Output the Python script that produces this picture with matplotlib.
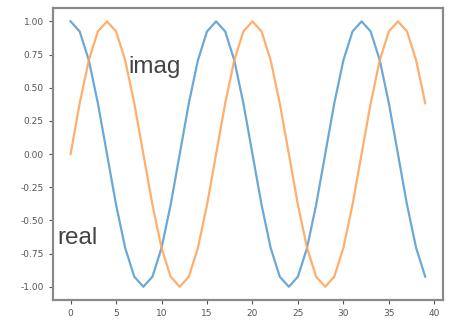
import numpy as np
from matplotlib import pyplot as plt

# sample index and the two parts of the signal
n = list(range(40))
real = [1.0, 0.924, 0.707, 0.383, 0.0, -0.383, -0.707, -0.924,
        -1.0, -0.924, -0.707, -0.383, 0.0, 0.383, 0.707, 0.924,
        1.0, 0.924, 0.707, 0.383, 0.0, -0.383, -0.707, -0.924,
        -1.0, -0.924, -0.707, -0.383, 0.0, 0.383, 0.707, 0.924,
        1.0, 0.924, 0.707, 0.383, 0.0, -0.383, -0.707, -0.924]
imag = [0.0, 0.383, 0.707, 0.924, 1.0, 0.924, 0.707, 0.383,
        0.0, -0.383, -0.707, -0.924, -1.0, -0.924, -0.707, -0.383,
        0.0, 0.383, 0.707, 0.924, 1.0, 0.924, 0.707, 0.383,
        0.0, -0.383, -0.707, -0.924, -1.0, -0.924, -0.707, -0.383,
        0.0, 0.383, 0.707, 0.924, 1.0, 0.924, 0.707, 0.383]
xticks = [0, 5, 10, 15, 20, 25, 30, 35, 40]
yticks = [-1.0, -0.75, -0.5, -0.25, 0.0, 0.25, 0.5, 0.75, 1.0]

fig = plt.figure(figsize=(4.52, 3.24), dpi=100)
ax = fig.add_axes([0.117, 0.074, 0.863, 0.901])

ax.plot(n, real, color='#5b9fd1', lw=1.6, alpha=0.9)
ax.plot(n, imag, color='#ffa55c', lw=1.6, alpha=0.9)

ax.text(6.3, 0.655, 'imag', fontsize=17.5, color='#444444', va='center',
        family='Liberation Sans')
ax.text(-1.5, -0.63, 'real', fontsize=17.5, color='#444444', va='center',
        family='Liberation Sans')

ax.set_xticks(xticks)
ax.set_yticks(yticks)
ax.set_yticklabels(['%.2f' % v for v in yticks])
ax.set_xlim(-1.95, 40.95)
ax.set_ylim(-1.1, 1.1)
ax.tick_params(labelsize=6.5, colors='#555555', length=3, width=0.8)
for s in ax.spines.values():
    s.set_color('#8a8a8a')
    s.set_linewidth(1.6)

fig.savefig('out.png', dpi=100)
